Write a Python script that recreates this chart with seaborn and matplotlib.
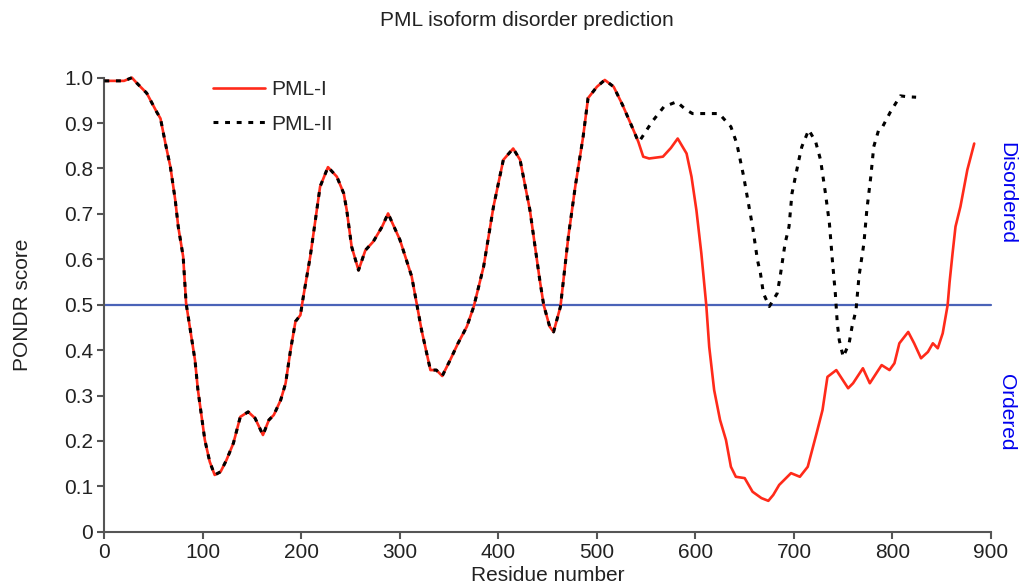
import pandas as pd
import numpy as np
import matplotlib
matplotlib.use("Agg")
import matplotlib.pyplot as plt
import seaborn as sns

# Shared part of both isoforms (identical sequence up to ~residue 541)
shared_residue = [0, 10, 20, 28, 33, 43, 53, 57, 62, 67, 72, 75, 80, 83, 87, 92, 95,
                  102, 107, 112, 118, 124, 131, 138, 146, 153, 161, 167, 172, 179, 184,
                  189, 194, 199, 202, 209, 219, 227, 236, 243, 246, 251, 258, 265, 273,
                  282, 288, 300, 312, 317, 322, 331, 337, 343, 351, 359, 368, 375, 385,
                  395, 405, 415, 422, 432, 442, 446, 452, 456, 463, 471, 478, 486, 491,
                  500, 508, 517, 526, 537, 542]
shared_score = [0.993, 0.993, 0.993, 1.0, 0.988, 0.966, 0.925, 0.91, 0.855, 0.804, 0.73,
                0.672, 0.606, 0.503, 0.448, 0.378, 0.312, 0.202, 0.154, 0.125, 0.132,
                0.158, 0.195, 0.253, 0.264, 0.25, 0.213, 0.246, 0.257, 0.29, 0.327, 0.4,
                0.463, 0.477, 0.518, 0.606, 0.76, 0.803, 0.782, 0.745, 0.709, 0.628,
                0.576, 0.62, 0.639, 0.672, 0.701, 0.643, 0.562, 0.503, 0.444, 0.356,
                0.356, 0.343, 0.378, 0.415, 0.452, 0.496, 0.584, 0.716, 0.819, 0.844,
                0.819, 0.708, 0.554, 0.499, 0.452, 0.44, 0.496, 0.65, 0.76, 0.87, 0.955,
                0.98, 0.995, 0.98, 0.94, 0.885, 0.859]

# PML-I after the split
pml1_residue = [547, 553, 560, 567, 575, 582, 591, 596, 601, 606, 611, 614, 619, 625,
                631, 636, 641, 650, 658, 667, 674, 679, 685, 697, 706, 714, 723, 729,
                734, 743, 755, 760, 770, 777, 789, 797, 802, 807, 816, 822, 829, 836,
                841, 846, 851, 856, 858, 861, 864, 869, 876, 883]
pml1_score = [0.826, 0.822, 0.824, 0.826, 0.845, 0.866, 0.833, 0.782, 0.708, 0.613,
              0.499, 0.407, 0.312, 0.246, 0.202, 0.143, 0.121, 0.118, 0.088, 0.074,
              0.068, 0.081, 0.103, 0.129, 0.121, 0.143, 0.217, 0.268, 0.341, 0.356,
              0.316, 0.327, 0.36, 0.327, 0.367, 0.356, 0.371, 0.415, 0.44, 0.415,
              0.382, 0.396, 0.415, 0.404, 0.437, 0.499, 0.55, 0.613, 0.672, 0.716,
              0.797, 0.855]

# PML-II after the split
pml2_residue = [544, 556, 568, 581, 590, 597, 610, 624, 636, 642, 649, 652, 658, 663,
                666, 669, 675, 683, 686, 691, 695, 698, 705, 708, 715, 722, 727, 732,
                736, 739, 742, 744, 746, 750, 756, 759, 763, 766, 771, 774, 778, 781,
                786, 790, 798, 808, 815, 824]
pml2_score = [0.863, 0.903, 0.936, 0.947, 0.93, 0.921, 0.921, 0.921, 0.892, 0.855,
              0.782, 0.745, 0.672, 0.598, 0.569, 0.525, 0.496, 0.525, 0.562, 0.635,
              0.672, 0.745, 0.819, 0.848, 0.885, 0.859, 0.819, 0.745, 0.679, 0.598,
              0.525, 0.459, 0.422, 0.385, 0.415, 0.452, 0.488, 0.562, 0.635, 0.709,
              0.782, 0.848, 0.885, 0.892, 0.925, 0.96, 0.958, 0.957]

threshold = 0.5

pml1 = pd.DataFrame({"residue": shared_residue + pml1_residue,
                     "score": shared_score + pml1_score})
pml2 = pd.DataFrame({"residue": shared_residue + pml2_residue,
                     "score": shared_score + pml2_score})

sns.set_style("ticks")
plt.rcParams["font.family"] = ["Liberation Sans", "DejaVu Sans"]
plt.rcParams["font.size"] = 15

fig = plt.figure(figsize=(10.19, 5.85), dpi=100)
ax = fig.add_axes([0.1024, 0.0911, 0.8701, 0.7761])

ax.axhline(threshold, color="#4a63b8", lw=1.6, zorder=1)
sns.lineplot(data=pml1, x="residue", y="score", ax=ax, color="#ff2a1a", lw=1.9,
             sort=False, estimator=None, label="PML-I", zorder=2)
sns.lineplot(data=pml2, x="residue", y="score", ax=ax, color="black", lw=2.2,
             sort=False, estimator=None, label="PML-II", zorder=3,
             linestyle=(0, (1.6, 2.2)))

ax.set_xlim(0, 900)
ax.set_ylim(0, 1.0)
ax.set_xticks(np.arange(0, 901, 100))
ax.set_yticks(np.arange(0, 1.01, 0.1))
ax.set_yticklabels([f"{v:.1f}" if v > 0 else "0" for v in np.arange(0, 1.01, 0.1)])
for line in ax.get_lines():
    line.set_clip_on(False)

sns.despine(ax=ax)
for side in ["left", "bottom"]:
    ax.spines[side].set_color("#555555")
    ax.spines[side].set_linewidth(1.5)
ax.tick_params(axis="both", colors="#555555", labelcolor="#222222", width=1.5,
               length=5, labelsize=15, pad=3)

ax.set_xlabel("Residue number", fontsize=15, color="#222222", labelpad=3)
ax.set_ylabel("PONDR score", fontsize=15, color="#222222", labelpad=23)
fig.text(527 / 1019, 1 - 20 / 585, "PML isoform disorder prediction", ha="center",
         va="center", fontsize=15, color="#222222")

ax.legend(loc="upper left", bbox_to_anchor=(0.122, 0.995), frameon=False,
          borderaxespad=0, borderpad=0, handlelength=2.5, handletextpad=0.3,
          labelspacing=0.75, fontsize=15)

fig.text(1007 / 1019, 1 - 193 / 585, "Disordered", color="#0000ee", rotation=-90,
         ha="center", va="center", fontsize=15)
fig.text(1007 / 1019, 1 - 412 / 585, "Ordered", color="#0000ee", rotation=-90,
         ha="center", va="center", fontsize=15)

fig.savefig("out.png", dpi=100)
